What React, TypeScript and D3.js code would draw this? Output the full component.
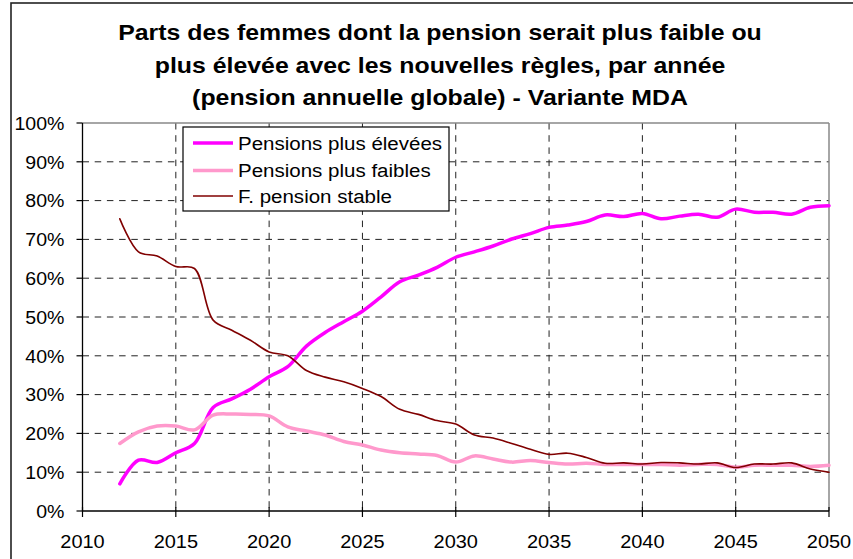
import React from "react";
import * as d3 from "d3";

const years: number[] = d3.range(2012, 2051);

const pensionsElevees: number[] = [
  7.0, 13.1, 12.5, 15.0, 17.4, 26.7, 28.9, 31.4, 34.6, 37.2,
  42.5, 46.0, 48.8, 51.5, 55.2, 59.1, 60.8, 62.8, 65.4, 66.8,
  68.3, 70.1, 71.5, 73.1, 73.7, 74.6, 76.3, 75.9, 76.7, 75.3,
  76.0, 76.5, 75.7, 77.8, 77.0, 77.0, 76.5, 78.3, 78.7,
];

const pensionsFaibles: number[] = [
  17.4, 20.4, 21.9, 21.9, 20.9, 24.7, 25.0, 24.9, 24.5, 21.7,
  20.6, 19.6, 17.9, 17.0, 15.7, 15.0, 14.7, 14.3, 12.6, 14.2,
  13.4, 12.6, 13.0, 12.5, 12.1, 12.3, 12.0, 12.0, 12.0, 12.0,
  11.8, 12.0, 12.0, 11.3, 11.8, 11.8, 11.8, 11.5, 11.8,
];

const pensionStable: number[] = [
  75.3, 66.8, 65.7, 63.0, 62.5, 49.2, 46.6, 44.0, 41.0, 40.0,
  36.2, 34.5, 33.3, 31.6, 29.5, 26.2, 24.9, 23.3, 22.4, 19.6,
  18.8, 17.4, 15.9, 14.6, 14.9, 13.8, 12.3, 12.4, 12.1, 12.5,
  12.4, 12.1, 12.4, 11.2, 12.1, 12.1, 12.4, 10.8, 10.0,
];

const xTicks: number[] = [2010, 2015, 2020, 2025, 2030, 2035, 2040, 2045, 2050];
const yTicks: number[] = [0, 10, 20, 30, 40, 50, 60, 70, 80, 90, 100];

const titleLines: string[] = [
  "Parts des femmes dont la pension serait plus faible ou",
  "plus élevée avec les nouvelles règles, par année",
  "(pension annuelle globale) - Variante MDA",
];

const seriesNames: string[] = [
  "Pensions plus élevées",
  "Pensions plus faibles",
  "F. pension stable",
];

const W = 853;
const H = 559;
const FONT = "'Liberation Sans', Arial, Helvetica, sans-serif";

type TProps = {
  x: number;
  y: number;
  sx: number;
  size: number;
  anchor?: "start" | "middle" | "end";
  bold?: boolean;
  dy?: string;
  children: string;
};

function T({ x, y, sx, size, anchor = "start", bold = false, dy, children }: TProps) {
  return (
    <text
      transform={`translate(${x},${y}) scale(${sx},1)`}
      dy={dy}
      textAnchor={anchor}
      fontFamily={FONT}
      fontWeight={bold ? "bold" : "normal"}
      fontSize={size}
      fill="#000"
    >
      {children}
    </text>
  );
}

export default function App() {
  const x = d3.scaleLinear().domain([2010, 2050]).range([82.5, 829]);
  const y = d3.scaleLinear().domain([0, 100]).range([511, 123]);

  const series = [
    { name: seriesNames[0], values: pensionsElevees, color: "#FF00FF", width: 3.5 },
    { name: seriesNames[1], values: pensionsFaibles, color: "#FF99CC", width: 3.5 },
    { name: seriesNames[2], values: pensionStable, color: "#800000", width: 1.6 },
  ];

  const line = d3
    .line<number>()
    .x((_, i) => x(years[i]))
    .y((d) => y(d))
    .curve(d3.curveCatmullRom.alpha(0.5));

  const legendRows = [143, 170.5, 196];

  return (
    <div style={{ position: "fixed", left: 0, top: 0 }}>
      <svg width={W} height={H} style={{ display: "block", background: "#fff" }}>
        <rect x={0} y={0} width={W} height={H} fill="#fff" />
        {/* outer frame */}
        <rect x={11} y={3} width={900} height={600} fill="none" stroke="#222" strokeWidth={1.6} />

        {/* title */}
        {titleLines.map((t, i) => (
          <T key={i} x={440} y={40 + i * 32.5} sx={1.13} size={22} anchor="middle" bold>
            {t}
          </T>
        ))}

        {/* horizontal grid */}
        {yTicks
          .filter((v) => v > 0 && v < 100)
          .map((v) => (
            <line
              key={"h" + v}
              x1={x(2010)}
              x2={x(2050)}
              y1={y(v)}
              y2={y(v)}
              stroke="#222"
              strokeWidth={1}
              strokeDasharray="6.5,5.7"
            />
          ))}
        {/* vertical grid */}
        {xTicks
          .filter((v) => v > 2010 && v < 2050)
          .map((v) => (
            <line
              key={"v" + v}
              x1={x(v)}
              x2={x(v)}
              y1={y(100)}
              y2={y(0)}
              stroke="#222"
              strokeWidth={1}
              strokeDasharray="6.5,5.7"
            />
          ))}

        {/* plot top/right border */}
        <line x1={x(2010)} x2={x(2050)} y1={y(100)} y2={y(100)} stroke="#888" strokeWidth={1.5} />
        <line x1={x(2050)} x2={x(2050)} y1={y(100)} y2={y(0)} stroke="#888" strokeWidth={1.5} />

        {/* axes */}
        <line x1={x(2010)} x2={x(2010)} y1={y(100)} y2={y(0)} stroke="#000" strokeWidth={1.3} />
        <line x1={x(2010)} x2={x(2050)} y1={y(0)} y2={y(0)} stroke="#000" strokeWidth={1.3} />
        {yTicks.map((v) => (
          <g key={"yt" + v}>
            <line x1={x(2010) - 6} x2={x(2010)} y1={y(v)} y2={y(v)} stroke="#000" strokeWidth={1.2} />
            <T x={64.5} y={y(v)} dy="0.36em" sx={1.03} size={19} anchor="end">
              {v + "%"}
            </T>
          </g>
        ))}
        {xTicks.map((v) => (
          <g key={"xt" + v}>
            <line x1={x(v)} x2={x(v)} y1={y(0) - 4} y2={y(0) + 6} stroke="#000" strokeWidth={1.2} />
            <T x={x(v)} y={541} dy="0.36em" sx={1.05} size={19} anchor="middle">
              {String(v)}
            </T>
          </g>
        ))}

        {/* series */}
        {series.map((s) => (
          <path
            key={s.name}
            d={line(s.values) || ""}
            fill="none"
            stroke={s.color}
            strokeWidth={s.width}
            strokeLinejoin="round"
            strokeLinecap="round"
          />
        ))}

        {/* legend */}
        <rect x={183} y={127} width={266} height={84} fill="#fff" stroke="#000" strokeWidth={1.2} />
        {series.map((s, i) => (
          <g key={"lg" + i}>
            <line
              x1={193}
              x2={233}
              y1={legendRows[i]}
              y2={legendRows[i]}
              stroke={s.color}
              strokeWidth={s.width}
            />
            <T x={238} y={legendRows[i]} dy="0.36em" sx={1.08} size={19}>
              {s.name}
            </T>
          </g>
        ))}
      </svg>
    </div>
  );
}
